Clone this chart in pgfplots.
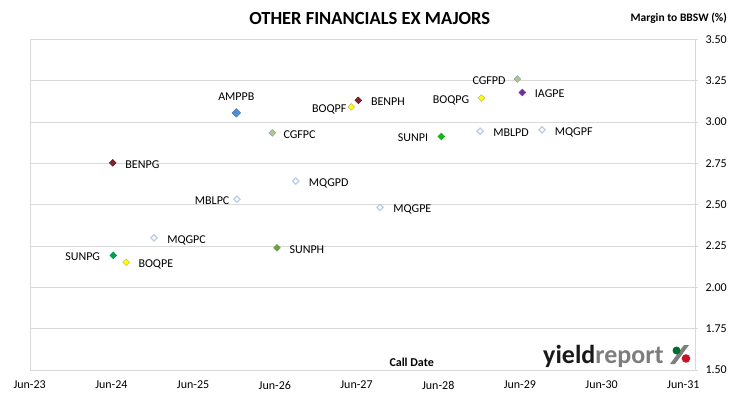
\documentclass[border=0pt]{standalone}
\usepackage{fontspec}
\setmainfont{Carlito}
\usepackage{pgfplots}
\pgfplotsset{compat=1.18}
\definecolor{gridgray}{RGB}{217,217,217}
\definecolor{ampblue}{RGB}{83,141,213}
\definecolor{ampblueD}{RGB}{70,120,190}
\definecolor{benred}{RGB}{128,35,45}
\definecolor{benredD}{RGB}{95,25,30}
\definecolor{cgfgreen}{RGB}{175,200,130}
\definecolor{cgfgreenD}{RGB}{140,165,175}
\definecolor{boqyellow}{RGB}{255,255,0}
\definecolor{boqyellowD}{RGB}{190,190,120}
\definecolor{iagpurple}{RGB}{112,48,160}
\definecolor{sunG}{RGB}{0,160,80}
\definecolor{sunH}{RGB}{110,160,70}
\definecolor{sunI}{RGB}{20,180,20}
\definecolor{mqgblue}{RGB}{184,204,228}
\definecolor{logoblack}{RGB}{25,25,25}
\definecolor{logogray}{RGB}{125,125,125}
\definecolor{logogreen}{RGB}{0,110,50}
\definecolor{logored}{RGB}{200,20,40}
\newcommand{\lbl}{\fontsize{12}{14}\selectfont}
\pgfplotsset{
  dm/.style 2 args={only marks, mark=square*, mark size=2.4pt,
    mark options={rotate=45, fill=#1, draw=#2, line width=0.5pt}},
  om/.style={only marks, mark=square, mark size=2.2pt,
    mark options={rotate=45, draw=mqgblue, fill=white, line width=1.2pt}},
  lr/.style={nodes near coords, point meta=explicit symbolic,
    every node near coord/.style={anchor=base west, inner sep=0pt, xshift=#1, yshift=-5.3pt, font=\lbl, text=black}},
  lr/.default=12.5pt,
  ll/.style={nodes near coords, point meta=explicit symbolic,
    every node near coord/.style={anchor=base east, inner sep=0pt, xshift=-#1, yshift=-5.3pt, font=\lbl, text=black}},
  ll/.default=12.5pt,
  la/.style={nodes near coords, point meta=explicit symbolic,
    every node near coord/.style={anchor=base, inner sep=0pt, yshift=12.7pt, font=\lbl, text=black}},
}
\begin{document}
\begin{tikzpicture}
\useasboundingbox (0,0) rectangle (730pt,399pt);
\begin{axis}[
  at={(29.7pt,29pt)}, anchor=south west,
  scale only axis, width=665.3pt, height=330.7pt,
  xmin=0, xmax=8.143, ymin=1.5, ymax=3.5,
  axis line style={draw=gridgray},
  ymajorgrids, grid style={draw=gridgray, line width=0.8pt},
  xtick={0,1,2,3,4,5,6,7,8},
  xticklabels={Jun-23,Jun-24,Jun-25,Jun-26,Jun-27,Jun-28,Jun-29,Jun-30,Jun-31},
  xtick pos=bottom,
  x tick style={draw=none},
  ytick={1.5,1.75,2,2.25,2.5,2.75,3,3.25,3.5},
  ytick pos=right, yticklabel pos=right,
  y tick style={draw=gridgray, line width=0.8pt},
  tick align=outside, major tick length=3pt,
  yticklabel style={anchor=west, inner sep=0pt, xshift=7.3pt},
  xticklabel style={inner sep=0pt, yshift=-8pt},
  ticklabel style={font=\lbl, text=black},
  /pgf/number format/.cd, fixed, fixed zerofill, precision=2, assume math mode=true,
]
\addplot[dm={ampblue}{ampblueD}, mark size=3pt, la] coordinates {(2.529,3.055) [AMPPB]};
\addplot[dm={benred}{benredD}, lr] coordinates {(1.016,2.753) [BENPG]};
\addplot[dm={benred}{benredD}, lr] coordinates {(4.022,3.131) [BENPH]};
\addplot[dm={cgfgreen}{cgfgreenD}, lr=11pt] coordinates {(2.969,2.934) [CGFPC]};
\addplot[dm={cgfgreen}{cgfgreenD}, ll=11.6pt] coordinates {(5.968,3.260) [CGFPD]};
\addplot[dm={boqyellow}{boqyellowD}, lr=12pt] coordinates {(1.182,2.151) [BOQPE]};
\addplot[dm={boqyellow}{boqyellowD}, ll=4.6pt] coordinates {(3.936,3.091) [BOQPF]};
\addplot[dm={boqyellow}{boqyellowD}, ll=12pt] coordinates {(5.528,3.145) [BOQPG]};
\addplot[dm={iagpurple}{iagpurple}, lr=12.4pt] coordinates {(6.029,3.178) [IAGPE]};
\addplot[dm={sunG}{sunG}, ll=13pt] coordinates {(1.023,2.193) [SUNPG]};
\addplot[dm={sunH}{sunH}, lr=12.3pt] coordinates {(3.027,2.239) [SUNPH]};
\addplot[dm={sunI}{sunI}, ll=13pt] coordinates {(5.038,2.912) [SUNPI]};
\addplot[om, lr=12.7pt] coordinates {(1.521,2.299) [MQGPC]};
\addplot[om, lr=12.6pt] coordinates {(3.256,2.642) [MQGPD]};
\addplot[om, lr=12.7pt] coordinates {(4.288,2.483) [MQGPE]};
\addplot[om, lr=12.3pt] coordinates {(6.270,2.952) [MQGPF]};
\addplot[om, ll=7pt] coordinates {(2.537,2.533) [MBLPC]};
\addplot[om, lr=12.7pt] coordinates {(5.512,2.944) [MBLPD]};
\end{axis}
\node[anchor=base, inner sep=0pt, font=\fontsize{18.5}{20}\selectfont\bfseries] at (369.7pt,374pt) {OTHER FINANCIALS EX MAJORS};
\node[anchor=base east, inner sep=0pt, font=\fontsize{11.5}{13}\selectfont\bfseries] at (727pt,377.5pt) {Margin to BBSW (\%)};
\node[anchor=base west, inner sep=0pt, font=\fontsize{12}{14}\selectfont\bfseries] at (389.3pt,32.3pt) {Call Date};
\node[anchor=base west, inner sep=0pt, font=\fontsize{26}{26}\selectfont\bfseries] at (543pt,35.7pt) {\textcolor{logoblack}{yield}\textcolor{logogray}{report}};
\fill[logogray] (684pt,54pt) -- (689pt,54pt) -- (675pt,35pt) -- (670pt,35pt) -- cycle;
\fill[logogreen] (676.5pt,48.5pt) circle (4pt);
\fill[logored] (686pt,40.5pt) circle (4.3pt);
\end{tikzpicture}
\end{document}
